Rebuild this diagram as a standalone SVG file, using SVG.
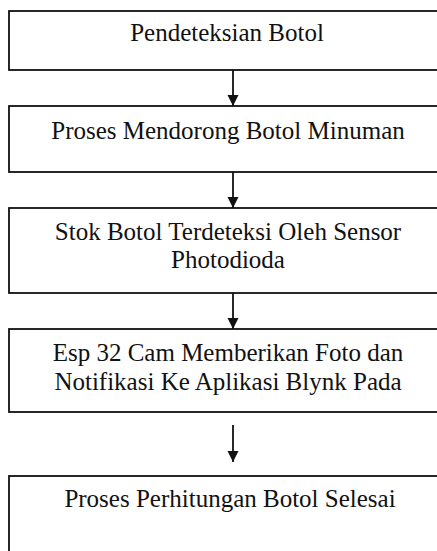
<svg xmlns="http://www.w3.org/2000/svg" width="437" height="551" viewBox="0 0 437 551">
<style>
.box{fill:#fff;stroke:#111;stroke-width:1.8}
.t{font-family:"Liberation Serif","Times New Roman",serif;font-size:25px;fill:#111;text-anchor:middle}
.c{stroke:#111;stroke-width:1.8;fill:none}
</style>
<defs>
<marker id="ah" markerUnits="userSpaceOnUse" markerWidth="12" markerHeight="12" refX="11" refY="5.5" orient="auto">
<path d="M0,0 L11,5.5 L0,11 Z" fill="#111"/>
</marker>
</defs>
<rect width="437" height="551" fill="#fff"/>
<g id="n1"><rect class="box" x="9" y="11" width="440" height="59"/><text class="t" x="227" y="41">Pendeteksian Botol</text></g>
<g id="n2"><rect class="box" x="9" y="106" width="440" height="66"/><text class="t" x="228" y="139">Proses Mendorong Botol Minuman</text></g>
<g id="n3"><rect class="box" x="9" y="208" width="440" height="85"/><text class="t" x="228" y="240">Stok Botol Terdeteksi Oleh Sensor</text><text class="t" x="228" y="268">Photodioda</text></g>
<g id="n4"><rect class="box" x="9" y="329" width="440" height="83"/><text class="t" x="228" y="361">Esp 32 Cam Memberikan Foto dan</text><text class="t" x="228" y="390">Notifikasi Ke Aplikasi Blynk Pada</text></g>
<g id="n5"><rect class="box" x="9" y="476" width="440" height="90"/><text class="t" x="230" y="507">Proses Perhitungan Botol Selesai</text></g>
<g id="connectors">
<line class="c" x1="233" y1="70" x2="233" y2="106" marker-end="url(#ah)"/>
<line class="c" x1="233" y1="172" x2="233" y2="208" marker-end="url(#ah)"/>
<line class="c" x1="233" y1="293" x2="233" y2="329" marker-end="url(#ah)"/>
<line class="c" x1="233" y1="425" x2="233" y2="462" marker-end="url(#ah)"/>
</g>
</svg>
